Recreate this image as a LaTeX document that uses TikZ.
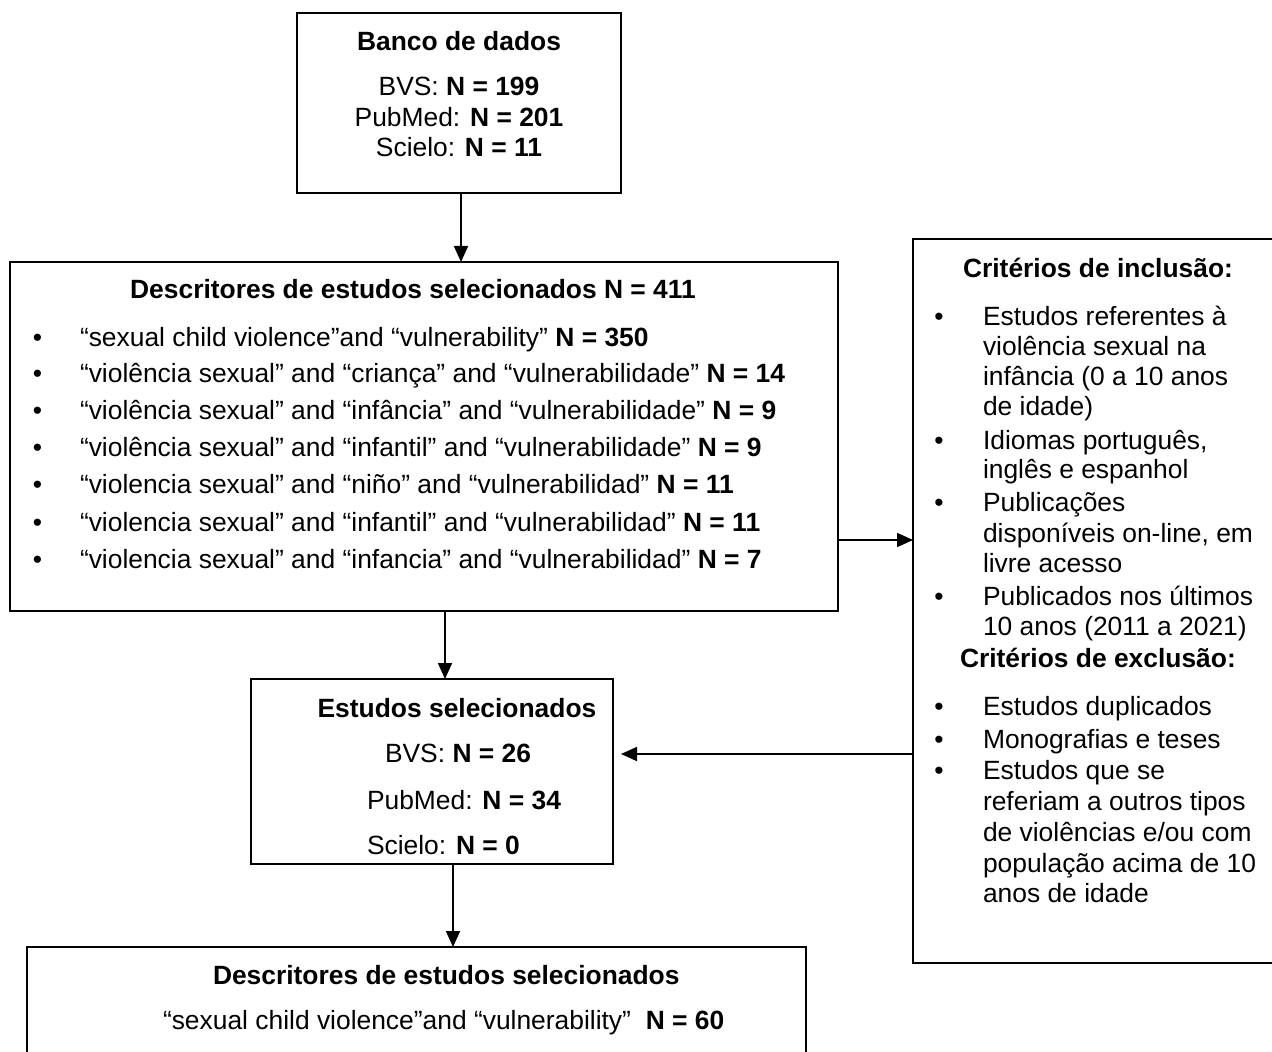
\documentclass[tikz,border=0pt]{standalone}
\usepackage{fontspec}
\setmainfont{Liberation Sans}
\usetikzlibrary{arrows.meta}
\begin{document}
\begin{tikzpicture}[x=0.5pt,y=-0.5pt,
  box/.style={draw=black,line width=1pt,inner sep=0pt,outer sep=0pt,fill=none},
  txt/.style={inner sep=0pt,outer sep=0pt,font=\fontsize{13.2pt}{15pt}\selectfont},
  tw/.style={txt,anchor=base west},
  tc/.style={txt,anchor=base},
  arr/.style={draw=black,line width=0.9pt,-{Triangle[length=8pt,width=7pt]}}]
\useasboundingbox (0,0) rectangle (1272,1052);
\clip (0,0) rectangle (1272,1052);
\fill[white] (0,0) rectangle (1272,1052);
% boxes
\node[box,minimum width=162pt,minimum height=90pt] (box1) at (459,103) {};
\node[box,minimum width=413.75pt,minimum height=174.5pt] (box2) at (423.75,436.5) {};
\node[box,minimum width=193.5pt,minimum height=362pt] (box3) at (1106.5,601) {};
\node[box,minimum width=181pt,minimum height=92.5pt] (box4) at (432,771.5) {};
\node[box,minimum width=389.5pt,minimum height=66.5pt] (box5) at (416.5,1013.5) {};
% box1 text
\node[tc] (b1t) at (459,51) {\textbf{Banco de dados}};
\node[tc] (b1a) at (459,96) {BVS: \textbf{N = 199}};
\node[tc] (b1b) at (459,127) {PubMed: \textbf{N = 201}};
\node[tc] (b1c) at (459,157) {Scielo: \textbf{N = 11}};
% box2 text
\node[tc] (b2t) at (413,299) {\textbf{Descritores de estudos selecionados N = 411}};
\foreach \yy [count=\i] in {347,383,420,457,494,531,568}
  \node[tc] (b2d\i) at (37.5,\yy) {•};
\node[tw] (b2l1) at (80,347) {“sexual child violence”and “vulnerability” \textbf{N = 350}};
\node[tw] (b2l2) at (80,383) {“violência sexual” and “criança” and “vulnerabilidade” \textbf{N = 14}};
\node[tw] (b2l3) at (80,420) {“violência sexual” and “infância” and “vulnerabilidade” \textbf{N = 9}};
\node[tw] (b2l4) at (80,457) {“violência sexual” and “infantil” and “vulnerabilidade” \textbf{N = 9}};
\node[tw] (b2l5) at (80,494) {“violencia sexual” and “niño” and “vulnerabilidad” \textbf{N = 11}};
\node[tw] (b2l6) at (80,531) {“violencia sexual” and “infantil” and “vulnerabilidad” \textbf{N = 11}};
\node[tw] (b2l7) at (80,568) {“violencia sexual” and “infancia” and “vulnerabilidad” \textbf{N = 7}};
% box3 text
\node[tc] (b3t) at (1098,278) {\textbf{Critérios de inclusão:}};
\foreach \yy [count=\i] in {326,450,512,605,715,748,779}
  \node[tc] (b3d\i) at (939,\yy) {•};
\node[tw] (b3l1) at (983,326) {Estudos referentes à};
\node[tw] (b3l2) at (983,356) {violência sexual na};
\node[tw] (b3l3) at (983,386) {infância (0 a 10 anos};
\node[tw] (b3l4) at (983,416) {de idade)};
\node[tw] (b3l5) at (983,450) {Idiomas português,};
\node[tw] (b3l6) at (983,479) {inglês e espanhol};
\node[tw] (b3l7) at (983,512) {Publicações};
\node[tw] (b3l8) at (983,542) {disponíveis on-line, em};
\node[tw] (b3l9) at (983,572) {livre acesso};
\node[tw] (b3l10) at (983,605) {Publicados nos últimos};
\node[tw] (b3l11) at (983,635) {10 anos (2011 a 2021)};
\node[tw] (b3e) at (960,667) {\textbf{Critérios de exclusão:}};
\node[tw] (b3m1) at (983,715) {Estudos duplicados};
\node[tw] (b3m2) at (983,748) {Monografias e teses};
\node[tw] (b3m3) at (983,779) {Estudos que se};
\node[tw] (b3m4) at (983,810) {referiam a outros tipos};
\node[tw] (b3m5) at (983,841) {de violências e/ou com};
\node[tw] (b3m6) at (983,872) {população acima de 10};
\node[tw] (b3m7) at (983,902) {anos de idade};
% box4 text
\node[tc] (b4t) at (457,717) {\textbf{Estudos selecionados}};
\node[tw] (b4a) at (385,762) {BVS: \textbf{N = 26}};
\node[tw] (b4b) at (367,809) {PubMed: \textbf{N = 34}};
\node[tw] (b4c) at (367,854) {Scielo: \textbf{N = 0}};
% box5 text
\node[tw] (b5t) at (213,984) {\textbf{Descritores de estudos selecionados}};
\node[tw] (b5l) at (163,1029) {“sexual child violence”and “vulnerability”\ \ \textbf{N = 60}};
% connectors
\coordinate (x1) at (461,0);
\coordinate (x2) at (445,0);
\coordinate (x3) at (453,0);
\coordinate (y1) at (0,540);
\coordinate (y2) at (0,754);
\draw[arr] (box1.south -| x1) -- (box2.north -| x1);
\draw[arr] (box2.south -| x2) -- (box4.north -| x2);
\draw[arr] (box4.south -| x3) -- (box5.north -| x3);
\draw[arr] (box2.east |- y1) -- (box3.west |- y1);
\draw[arr,shorten >=4pt] (box3.west |- y2) -- (box4.east |- y2);
\end{tikzpicture}
\end{document}
